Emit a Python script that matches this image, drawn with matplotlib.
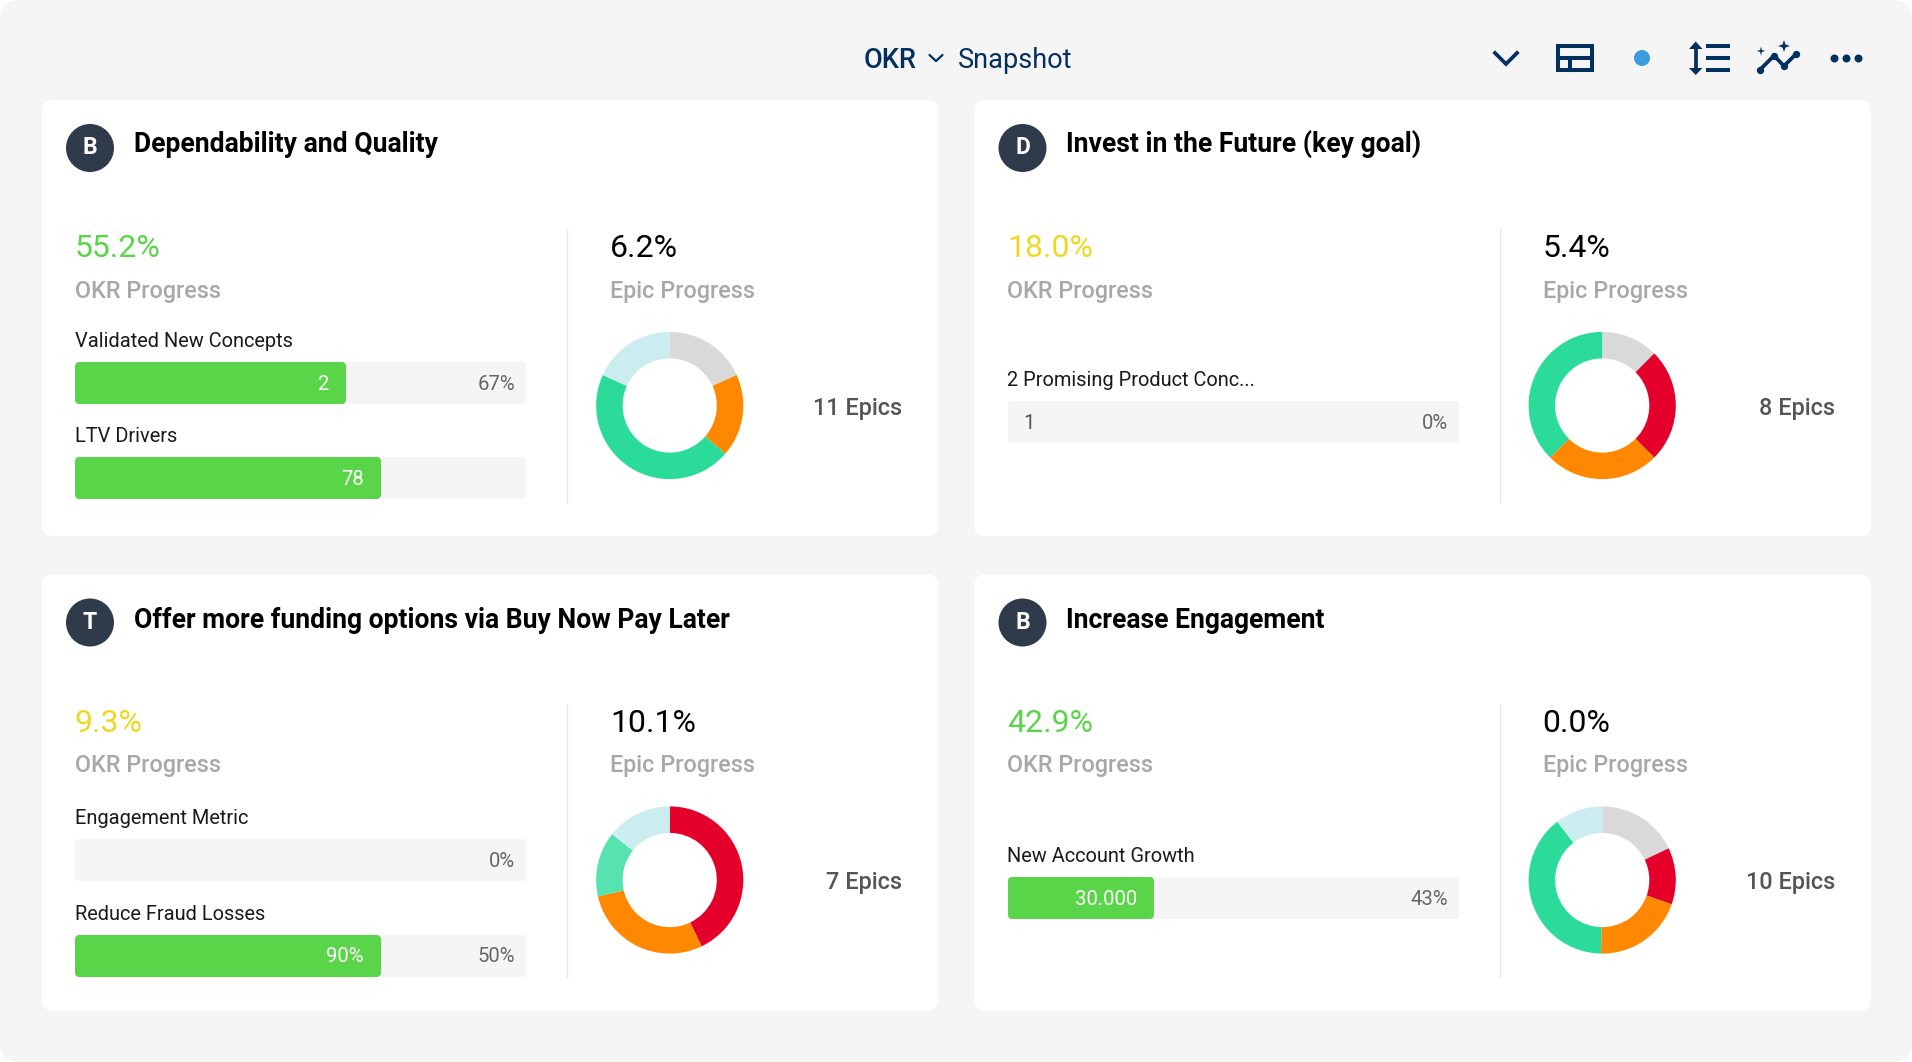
#!/usr/bin/env python3
"""OKR snapshot dashboard: four cards with progress bars and epic donuts"""

import matplotlib
matplotlib.use('Agg')
import matplotlib.pyplot as plt
from matplotlib.patches import FancyBboxPatch, Circle, Polygon

plt.rcParams['font.family'] = ['Roboto', 'DejaVu Sans']

# Chart data
card_titles = ['Dependability and Quality', 'Invest in the Future (key goal)',
               'Offer more funding options via Buy Now Pay Later', 'Increase Engagement']
card_badges = ['B', 'D', 'T', 'B']
okr_progress = ['55.2%', '18.0%', '9.3%', '42.9%']
epic_progress = ['6.2%', '5.4%', '10.1%', '0.0%']
epic_counts = ['11 Epics', '8 Epics', '7 Epics', '10 Epics']

bar_names = [['Validated New Concepts', 'LTV Drivers'],
             ['2 Promising Product Conc...'],
             ['Engagement Metric', 'Reduce Fraud Losses'],
             ['New Account Growth']]
bar_fill = [[0.60, 0.678], [0.0], [0.0, 0.678], [0.324]]
bar_inner = [['2', '78'], ['1'], ['', '90%'], ['30.000']]
bar_outer = [['67%', ''], ['0%'], ['0%', '50%'], ['43%']]

donut_values = [[2, 2, 5, 2],
                [1, 2, 2, 3],
                [3, 2, 1, 1],
                [1.8, 1.25, 2, 3.95, 1.05]]
donut_status = [['none', 'late', 'done', 'new'],
                ['none', 'risk', 'late', 'done'],
                ['risk', 'late', 'mint', 'new'],
                ['none', 'risk', 'late', 'done', 'new']]

# Colours
NAVY = '#03305c'
BG = '#f5f5f5'
GREEN = '#5ad449'
YELLOW = '#f0d820'
status_colors = {'none': '#d9d9d9', 'late': '#ff8800', 'done': '#2bdb9a',
                 'new': '#cbedf0', 'risk': '#e4002b', 'mint': '#56e3b0'}
okr_colors = [GREEN, YELLOW, YELLOW, GREEN]

W, H = 1912, 1062
CARD_W, CARD_H = 896, 436
DX, DY = 932.5, 474.5
card_origins = [(42, 100), (42 + DX, 100), (42, 100 + DY), (42 + DX, 100 + DY)]

# track offsets from the card top
track_tops = [[262, 357], [301], [264.5, 360], [302.5]]

fig = plt.figure(figsize=(W / 100, H / 100), dpi=100, facecolor='white')
ax = fig.add_axes([0, 0, 1, 1])
ax.set_xlim(0, W)
ax.set_ylim(H, 0)
ax.axis('off')


def rounded(x, y, w, h, r, color, zorder=1):
    ax.add_patch(FancyBboxPatch((x + r, y + r), w - 2 * r, h - 2 * r,
                                boxstyle=f'round,pad={r},rounding_size={r}',
                                facecolor=color, edgecolor='none', zorder=zorder))


def round_bar(y, left, width, height, color, r=4, zorder=2):
    # bar with round joins, so the corners look like the dashboard's
    ax.barh(y, width - 2 * r, left=left + r, height=height - 2 * r, color=color,
            edgecolor=color, linewidth=2 * r * 0.72, joinstyle='round', zorder=zorder)


def draw_header():
    ax.text(864, 67.5, 'OKR', fontsize=19.5, fontweight='medium', color=NAVY, va='baseline')
    ax.plot([929.5, 936, 942.5], [55, 61, 55], color=NAVY, lw=1.6, solid_capstyle='round')
    ax.text(958, 67.5, 'Snapshot', fontsize=19.5, color=NAVY, va='baseline')

    # chevron
    ax.plot([1495, 1506, 1517], [53, 64, 53], color=NAVY, lw=2.7, solid_joinstyle='miter')

    # layout icon
    ax.plot([1558, 1592, 1592, 1558, 1558], [46, 46, 70, 70, 46], color=NAVY, lw=2.9,
            solid_joinstyle='miter')
    ax.plot([1558, 1592], [58, 58], color=NAVY, lw=2.9)
    ax.plot([1570, 1570], [58, 70], color=NAVY, lw=2.9)

    ax.add_patch(Circle((1642, 58), 8, color='#3c9cdc', lw=0))

    # line spacing icon
    ax.plot([1695.7, 1695.7], [46, 71], color=NAVY, lw=2.7)
    ax.add_patch(Polygon([(1689, 49), (1695.7, 41.5), (1702.5, 49)], color=NAVY, lw=0))
    ax.add_patch(Polygon([(1689, 68), (1695.7, 75), (1702.5, 68)], color=NAVY, lw=0))
    for ly in [46, 58, 70]:
        ax.plot([1706, 1730], [ly, ly], color=NAVY, lw=2.9, solid_capstyle='butt')

    # insights icon
    xs, ys = [1759.7, 1774, 1784, 1796], [70, 55.7, 66, 54]
    ax.plot(xs, ys, color=NAVY, lw=2.7)
    ax.scatter(xs, ys, s=28, color=NAVY, lw=0, zorder=3)
    for sx, sy, a, b in [(1784, 46, 6, 1.5), (1761, 51, 4.5, 0.9)]:
        ax.add_patch(Polygon([(sx, sy - a), (sx + b, sy - b), (sx + a, sy), (sx + b, sy + b),
                              (sx, sy + a), (sx - b, sy + b), (sx - a, sy), (sx - b, sy - b)],
                             color=NAVY, lw=0))

    ax.scatter([1834, 1846, 1858], [58, 58, 58], s=33, color=NAVY, lw=0)


def draw_card(i):
    x0, y0 = card_origins[i]
    rounded(x0, y0, CARD_W, CARD_H, 10, 'white')

    # badge and title
    ax.add_patch(Circle((x0 + 48, y0 + 48), 24, color='#2f3a4a', lw=0, zorder=2))
    ax.text(x0 + 48, y0 + 48, card_badges[i], color='white', fontsize=16.5, fontweight='bold',
            ha='center', va='center', zorder=3)
    title_y = y0 + 51.5 + (1.5 if i >= 2 else 0)
    ax.text(x0 + 92, title_y, card_titles[i], color='black', fontsize=19.1, fontweight='semibold',
            va='baseline', zorder=3)

    # OKR column
    ax.text(x0 + 32.5, y0 + 157, okr_progress[i], color=okr_colors[i], fontsize=23, va='baseline')
    ax.text(x0 + 32.8, y0 + 197.8, 'OKR Progress', color='#a8a8a8', fontsize=16.8,
            fontweight='medium', va='baseline')

    track_x, track_w, track_h = x0 + 33 + (0.3 if i % 2 else 0), 451, 42
    for j, name in enumerate(bar_names[i]):
        track_y = track_tops[i][j]
        ax.text(track_x - 0.3, y0 + track_y - 14.7, name, color='#1a1a1a', fontsize=14.4, va='baseline')
        cy = y0 + track_y + track_h / 2
        round_bar(cy, track_x, track_w, track_h, BG)
        frac = bar_fill[i][j]
        if frac > 0:
            fill_w = frac * track_w
            round_bar(cy, track_x, fill_w, track_h, GREEN, zorder=3)
            ax.text(track_x + fill_w - 17, cy + 7, bar_inner[i][j], color='white', fontsize=14.6,
                    ha='right', va='baseline', zorder=4)
        elif bar_inner[i][j]:
            ax.text(track_x + 16, cy + 7, bar_inner[i][j], color='#555555', fontsize=14.6,
                    va='baseline', zorder=4)
        if bar_outer[i][j]:
            ax.text(track_x + track_w - 11, cy + 7, bar_outer[i][j], color='#666666', fontsize=14.6,
                    ha='right', va='baseline', zorder=4)

    # divider
    ax.plot([x0 + 525.5, x0 + 525.5], [y0 + 129, y0 + 402], color='#e6e6e6', lw=1)

    # Epic column
    ax.text(x0 + 568, y0 + 157, epic_progress[i], color='black', fontsize=23, va='baseline')
    ax.text(x0 + 568.3, y0 + 197.8, 'Epic Progress', color='#a8a8a8', fontsize=16.8,
            fontweight='medium', va='baseline')
    ax.text(x0 + 860.5, y0 + 315, epic_counts[i], color='#555555', fontsize=16.9,
            fontweight='medium', ha='right', va='baseline')

    # donut
    cx, cy, radius = x0 + 627.7, y0 + 305.5, 73.6
    dax = fig.add_axes([(cx - radius) / W, 1 - (cy + radius) / H, 2 * radius / W, 2 * radius / H])
    dax.pie(donut_values[i], colors=[status_colors[s] for s in donut_status[i]],
            startangle=90, counterclock=False, radius=1,
            wedgeprops=dict(width=0.36, linewidth=0))
    dax.set_xlim(-1, 1)
    dax.set_ylim(-1, 1)


# page background
rounded(0, 0, W, H, 20, BG, zorder=0)
draw_header()
for k in range(4):
    draw_card(k)

fig.savefig('out.png', dpi=100, facecolor='white')
